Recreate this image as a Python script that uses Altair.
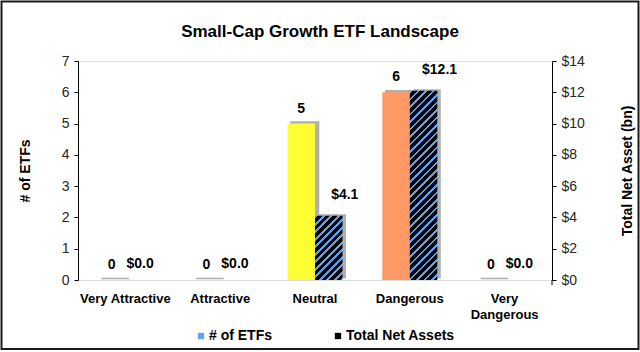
import altair as alt
import pandas as pd

# ---------------- data ----------------
categories = ["Very Attractive", "Attractive", "Neutral", "Dangerous", "Very Dangerous"]
etf_counts = [0, 0, 5, 6, 0]
net_assets = [0.0, 0.0, 4.1, 12.1, 0.0]
series_names = ["# of ETFs", "Total Net Assets"]
etf_ticks = [0, 1, 2, 3, 4, 5, 6, 7]
asset_ticks = [0, 2, 4, 6, 8, 10, 12, 14]

# ---------------- style ----------------
etf_colors = ["#A6A6A6", "#A6A6A6", "#FFFF33", "#FF9966", "#A6A6A6"]
BLUE = "#5BA3F0"
LEGEND_BLUE = "#5EA6F5"
FONT = "Liberation Sans"
W, H = 474, 219
BAR_W = 27.5
ETF_MAX, ASSET_MAX = 7, 14
PERIOD, BLUE_LEN = 7.5, 2.8

df = pd.DataFrame({"category": categories, "etfs": etf_counts, "assets": net_assets})
base = alt.Chart(df)


def x_enc(axis=None):
    return alt.X("category:N", sort=categories,
                 scale=alt.Scale(paddingInner=0, paddingOuter=0),
                 axis=axis)


def y_etf(axis=None):
    return alt.Y("etfs:Q", scale=alt.Scale(domain=[0, ETF_MAX], nice=False, zero=True), axis=axis)


def y_assets(axis=None):
    return alt.Y("assets:Q", scale=alt.Scale(domain=[0, ASSET_MAX], nice=False, zero=True), axis=axis)


def hatch_fill(value):
    h = value / ASSET_MAX * H
    w = BAR_W
    if h <= 0:
        return "#000000"
    k = w / (w * w + h * h)
    total = w + h
    stops = []
    pos = 0.0
    while pos < total:
        a = min(pos * k, 1)
        b = min((pos + BLUE_LEN) * k, 1)
        c = min((pos + PERIOD) * k, 1)
        stops += [
            alt.GradientStop(offset=a, color=BLUE),
            alt.GradientStop(offset=b, color=BLUE),
            alt.GradientStop(offset=b, color="#000000"),
            alt.GradientStop(offset=c, color="#000000"),
        ]
        pos += PERIOD
    return alt.LinearGradient(gradient="linear", stops=stops, x1=0, y1=0, x2=1, y2=h / w)


tick_axis = alt.Axis(bandPosition=0, labels=False, ticks=True, tickSize=5, domain=True,
                     domainColor="black", tickColor="black", title=None, grid=False)
left_axis = alt.Axis(values=etf_ticks, title="# of ETFs", grid=False, tickSize=4,
                     domainColor="black", tickColor="black", labelFont=FONT, labelFontSize=14,
                     labelColor="#262626", labelPadding=5, titleFont=FONT, titleFontSize=14,
                     titleFontWeight="bold", titleColor="black", titleX=-53, titleY=H / 2,
                     titleAngle=270, titleBaseline="middle", titleAlign="center")
right_axis = alt.Axis(values=asset_ticks, orient="right", title="Total Net Asset (bn)", grid=False,
                      tickSize=4, domainColor="black", tickColor="black", labelFont=FONT,
                      labelFontSize=14, labelColor="#262626", labelPadding=5,
                      labelExpr="'$' + datum.value",
                      titleFont=FONT, titleFontSize=14, titleFontWeight="bold", titleColor="black",
                      titleX=75, titleY=H / 2, titleAngle=270, titleBaseline="middle",
                      titleAlign="center")

layers = []

# shadows (first layer carries the x axis line and boundary ticks)
layers.append(base.mark_bar(width=BAR_W, xOffset=-BAR_W / 2 + 3.5, yOffset=-1.5,
                            color="#B0B0B0", stroke="#ADADAD", strokeWidth=1.6)
              .encode(x=x_enc(tick_axis), y=y_etf(left_axis)))
layers.append(base.mark_bar(width=BAR_W, xOffset=BAR_W / 2 + 3.5, yOffset=-1.5,
                            color="#B0B0B0")
              .transform_filter("datum.assets > 0")
              .encode(x=x_enc(), y=y_assets(right_axis)))

# ETF bars
layers.append(base.mark_bar(width=BAR_W, xOffset=-BAR_W / 2)
              .encode(x=x_enc(), y=y_etf(),
                      color=alt.Color("category:N",
                                      scale=alt.Scale(domain=categories, range=etf_colors),
                                      legend=None)))

# hatched asset bars (one layer per bar: stripe geometry depends on bar height)
for cat, val in zip(categories, net_assets):
    layers.append(base.mark_bar(width=BAR_W, xOffset=BAR_W / 2, color=hatch_fill(val))
                  .transform_filter(alt.datum.category == cat)
                  .encode(x=x_enc(), y=y_assets()))

# value labels
text_style = dict(font=FONT, fontSize=14, fontWeight="bold", color="black", baseline="middle")
layers.append(base.mark_text(dx=-BAR_W / 2, dy=-15, **text_style)
              .encode(x=x_enc(), y=y_etf(), text=alt.Text("etfs:Q", format="d")))
layers.append(base.mark_text(dx=BAR_W / 2 + 1, dy=-16, **text_style)
              .transform_filter("datum.assets == 0")
              .encode(x=x_enc(), y=y_assets(), text=alt.Text("assets:Q", format="$.1f")))
layers.append(base.mark_text(dx=BAR_W / 2 + 16, dy=-21, **text_style)
              .transform_filter("datum.assets > 0")
              .encode(x=x_enc(), y=y_assets(), text=alt.Text("assets:Q", format="$.1f")))

# category labels under the axis (two-line for "Very Dangerous")
layers.append(base.mark_text(font=FONT, fontSize=13, fontWeight="bold", color="black",
                             baseline="top", lineHeight=16)
              .transform_calculate(lab="datum.category == 'Very Dangerous' ? ['Very', 'Dangerous'] : datum.category")
              .encode(x=x_enc(), y=alt.value(H + 13), text="lab:N"))

# closing boundary tick at the right end of the category axis
end_df = pd.DataFrame({"t": [0]})
layers.append(alt.Chart(end_df).mark_rule(color="black", strokeWidth=1)
              .encode(x=alt.value(W), y=alt.value(H), y2=alt.value(H + 5)))

# legend carrier (invisible mark, visible legend)
legend_df = pd.DataFrame({"series": series_names})
layers.append(alt.Chart(legend_df).mark_square(size=1, opacity=0)
              .encode(color=alt.Color("series:N",
                                      scale=alt.Scale(domain=series_names,
                                                      range=[LEGEND_BLUE, "#000000"]),
                                      legend=alt.Legend(orient="none", legendX=116, legendY=268,
                                                        direction="horizontal", title=None,
                                                        symbolType="square", symbolSize=40,
                                                        symbolStrokeWidth=0, symbolOpacity=1,
                                                        labelFont=FONT, labelFontSize=14,
                                                        labelFontWeight="bold", labelColor="black",
                                                        labelOffset=1, columnPadding=58,
                                                        padding=0))))

# outer frame
frame_df = pd.DataFrame({"f": [0]})
layers.append(alt.Chart(frame_df).mark_rect(filled=False, stroke="#1a1a1a", strokeWidth=2)
              .encode(x=alt.value(-76.5), x2=alt.value(W + 86.5),
                      y=alt.value(-59.5), y2=alt.value(H + 69)))

chart = (alt.layer(*layers)
         .resolve_scale(y="independent", color="independent")
         .properties(width=W, height=H,
                     autosize=alt.AutoSizeParams(type="none"),
                     padding={"left": 78, "top": 61, "right": 88, "bottom": 72},
                     title=alt.TitleParams("Small-Cap Growth ETF Landscape", font=FONT,
                                           fontSize=17, fontWeight="bold", color="black",
                                           anchor="middle", dx=5, offset=-40))
         .configure_view(strokeWidth=0)
         .configure(background="white"))

chart.save("out.html", embed_options={"renderer": "svg", "actions": False})
